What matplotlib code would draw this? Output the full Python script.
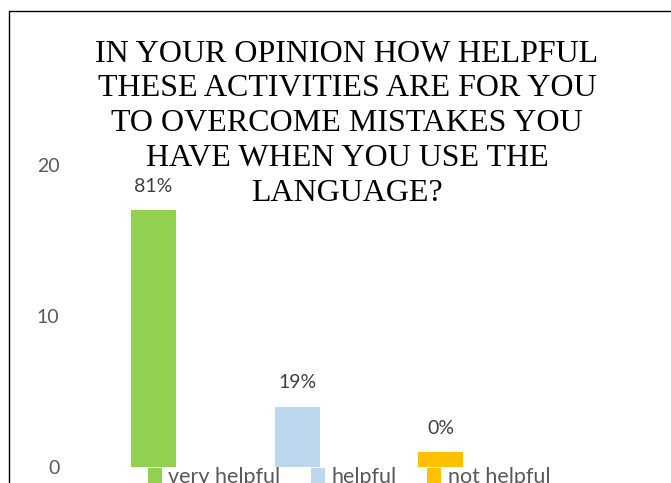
import matplotlib
matplotlib.use("Agg")
import matplotlib.pyplot as plt
from matplotlib.patches import Rectangle, Patch

# survey answers
categories = ["very helpful", "helpful", "not helpful"]
counts = [17, 4, 1]
pct_labels = ["81%", "19%", "0%"]
colors = ["#92D050", "#BDD7EE", "#FFC000"]
title = ("IN YOUR OPINION HOW HELPFUL\nTHESE ACTIVITIES ARE FOR YOU\n"
         "TO OVERCOME MISTAKES YOU\nHAVE WHEN YOU USE THE\nLANGUAGE?")

W, H = 671, 483
fig = plt.figure(figsize=(W / 100, H / 100), dpi=100)

def px(x, y):
    # pixel (from top-left) -> figure fraction
    return x / W, 1 - y / H

# chart frame, cut off on the right and bottom
fig.patches.append(Rectangle((8.5 / W, -0.1), 2.0, 1 - 10.5 / H + 0.1,
                             transform=fig.transFigure, fill=False,
                             edgecolor="black", linewidth=1.0))

ax = fig.add_axes([81.7 / W, 16 / H, 431.1 / W, 302 / H])
bars = ax.bar(range(len(categories)), counts, width=0.313, color=colors)
ax.set_xlim(-0.5, 2.5)
ax.set_ylim(0, 20)
ax.set_yticks([0, 10, 20])
ax.set_xticks([])
ax.tick_params(axis="y", length=0, pad=16, labelsize=14, labelcolor="#595959")
for lab in ax.get_yticklabels():
    lab.set_fontfamily("Lato")
for s in ax.spines.values():
    s.set_visible(False)
ax.patch.set_visible(False)

ax.bar_label(bars, labels=pct_labels, padding=11, fontsize=14,
             color="#404040", family="Lato")

tx, ty = px(347, 39.5)
fig.text(tx, ty, title, ha="center", va="top", fontsize=23,
         family="Liberation Serif", color="black", linespacing=1.27)

handles = [Patch(facecolor=c) for c in colors]
lx, ly = px(349, 467)
fig.legend(handles, categories, loc="upper center", bbox_to_anchor=(lx, ly),
           ncol=3, frameon=False, prop={"family": "Lato", "size": 15.5},
           labelcolor="#595959", handlelength=0.65, handleheight=0.7,
           handletextpad=0.3, columnspacing=1.42, borderpad=0, borderaxespad=0)

fig.savefig("out.png", dpi=100, facecolor="white")
